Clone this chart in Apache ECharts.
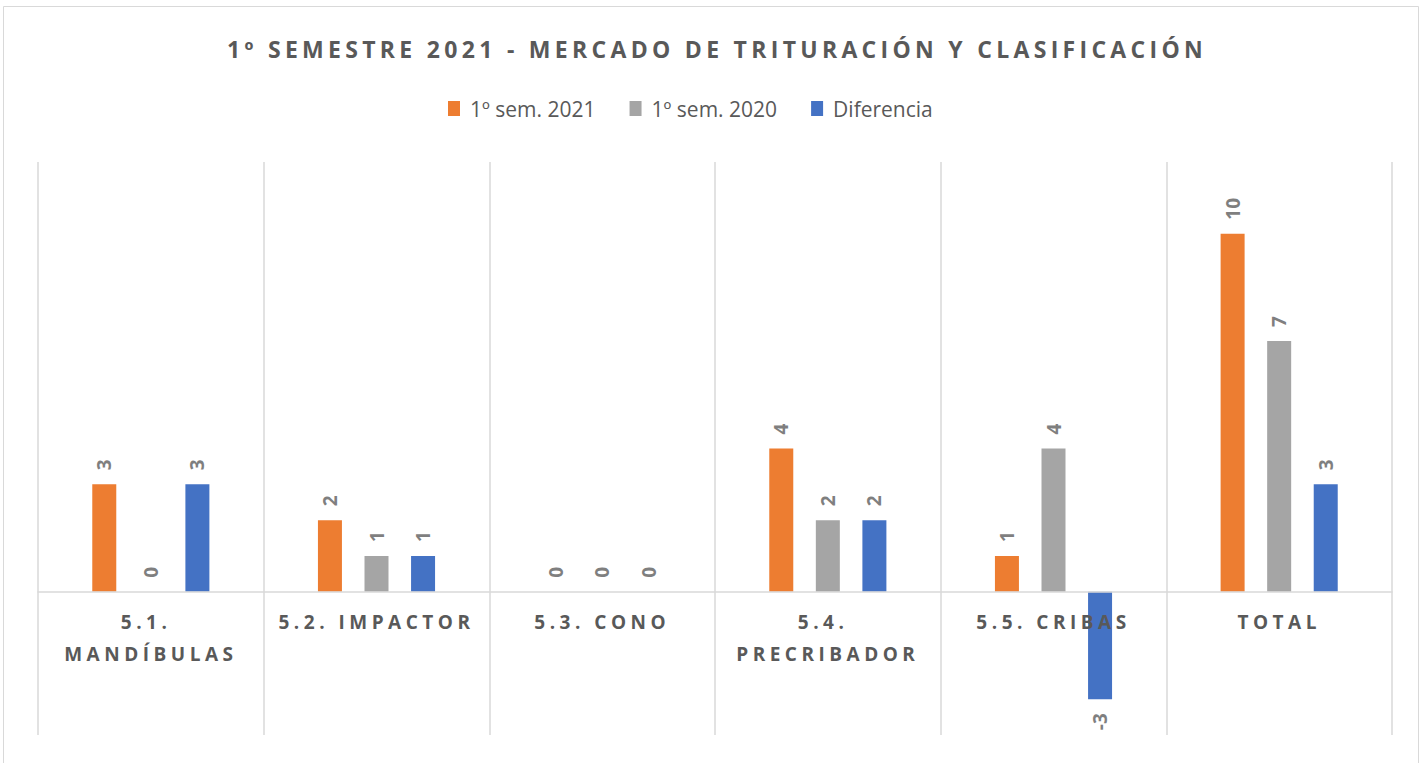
<!DOCTYPE html>
<html>
<head>
<meta charset="utf-8">
<script src="https://cdn.jsdelivr.net/npm/echarts@6/dist/echarts.min.js"></script>
<style>
  html,body{margin:0;padding:0;background:#fff;}
  #chart{width:1424px;height:763px;}
</style>
</head>
<body>
<div id="chart"></div>
<script>
var categories = ['5.1. MANDÍBULAS', '5.2. IMPACTOR', '5.3. CONO', '5.4. PRECRIBADOR', '5.5. CRIBAS', 'TOTAL'];
var sem2021 = [3, 2, 0, 4, 1, 10];
var sem2020 = [0, 1, 0, 2, 4, 7];
var diferencia = [3, 1, 0, 2, -3, 3];

var textColor = '#595959';
var labelColor = '#7f7f7f';
var gridColor = '#d9d9d9';

function barLabels(arr) {
  // negative bars get their label under the bar
  return arr.map(function (v) {
    if (v < 0) {
      return { value: v, label: { position: 'bottom', align: 'right' } };
    }
    return v;
  });
}

var chart = echarts.init(document.getElementById('chart'), null, { renderer: 'svg' });
var option = {
  animation: false,
  backgroundColor: '#fff',
  graphic: [{
    type: 'rect',
    shape: { x: 3.5, y: 6.5, width: 1415, height: 800 },
    style: { fill: 'none', stroke: '#d9d9d9', lineWidth: 1 },
    silent: true
  }],
  title: {
    text: '1º SEMESTRE 2021 - MERCADO DE TRITURACIÓN Y CLASIFICACIÓN',
    left: 712,
    textAlign: 'center',
    top: 32,
    textStyle: {
      fontFamily: 'Open Sans',
      fontWeight: 'bold',
      fontSize: 23,
      color: textColor
    }
  },
  legend: {
    top: 93,
    left: 443,
    itemWidth: 12,
    itemHeight: 15,
    itemGap: 34,
    icon: 'rect',
    textStyle: { fontFamily: 'Open Sans', fontSize: 21, color: textColor, padding: [0, 0, 0, 5] },
    data: ['1º sem. 2021', '1º sem. 2020', 'Diferencia']
  },
  grid: { left: 38, right: 32, top: 162, bottom: 28, outerBoundsMode: 'none' },
  xAxis: {
    type: 'category',
    data: categories,
    offset: -143,
    z: 5,
    axisLine: { onZero: false, lineStyle: { color: gridColor, width: 1.5 } },
    axisTick: { show: false },
    splitLine: { show: true, lineStyle: { color: gridColor, width: 1.5 } },
    axisLabel: {
      margin: 14,
      interval: 0,
      width: 150,
      overflow: 'break',
      lineHeight: 32,
      fontFamily: 'Open Sans',
      fontWeight: 'bold',
      fontSize: 19,
      color: textColor
    }
  },
  yAxis: {
    type: 'value',
    min: -4,
    max: 12,
    interval: 2,
    show: false,
    splitLine: { show: false }
  },
  series: [
    { name: '1º sem. 2021', data: sem2021, color: '#ED7D31' },
    { name: '1º sem. 2020', data: sem2020, color: '#A5A5A5' },
    { name: 'Diferencia', data: barLabels(diferencia), color: '#4472C4' }
  ].map(function (s) {
    return {
      name: s.name,
      type: 'bar',
      data: s.data,
      barWidth: 24,
      barGap: '94%',
      itemStyle: { color: s.color },
      label: {
        show: true,
        position: 'top',
        rotate: 90,
        align: 'left',
        verticalAlign: 'middle',
        distance: 14,
        fontFamily: 'Open Sans',
        fontWeight: 'bold',
        fontSize: 19,
        color: labelColor
      }
    };
  })
};
chart.setOption(option);

// title and category names are spaced out like in the original
function spaceLetters() {
  var texts = document.querySelectorAll('#chart svg text');
  for (var i = 0; i < texts.length; i++) {
    var fs = window.getComputedStyle(texts[i]).fontSize;
    var isNumber = !isNaN(parseFloat(texts[i].textContent));
    if (fs === '23px') texts[i].style.letterSpacing = '4.3px';
    if (fs === '19px' && !/^-?\d+$/.test(texts[i].textContent.trim())) {
      texts[i].style.letterSpacing = '4.5px';
    }
  }
}
chart.on('finished', spaceLetters);
spaceLetters();
</script>
</body>
</html>
